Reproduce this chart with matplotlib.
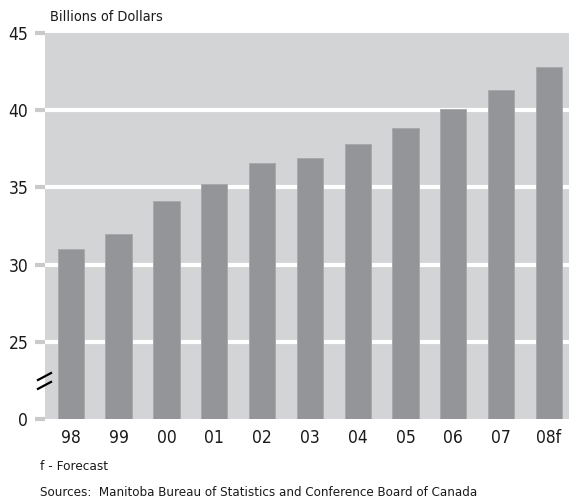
import numpy as np
import matplotlib
matplotlib.use("Agg")
import matplotlib.pyplot as plt
from matplotlib import font_manager as fm

# data
years = ['98', '99', '00', '01', '02', '03', '04', '05', '06', '07', '08f']
values = [31.0, 32.0, 34.1, 35.25, 36.55, 36.9, 37.8, 38.85, 40.05, 41.3, 42.8]
tick_values = [0, 25, 30, 35, 40, 45]

bg_grey = '#d3d4d6'
bar_grey = '#939598'

# the original uses a condensed face; pick one if there is any
font = None
scale = 1.0
for f in fm.fontManager.ttflist:
    if 'Narrow' in f.name or 'Condensed' in f.name:
        font = fm.FontProperties(fname=f.fname)
        break
    if f.name == 'DejaVu Sans' and f.stretch == 'condensed' and f.style == 'normal' \
            and f.weight in (400, 'normal'):
        font = fm.FontProperties(fname=f.fname)
        break
if font is None:
    font = fm.FontProperties(family='Roboto')
    scale = 0.88


def fp(size):
    p = font.copy()
    p.set_size(size * scale)
    return p


# broken axis: 0 sits one step below 25, then 5 units per step
def to_axis(v):
    v = np.asarray(v, dtype=float)
    return np.where(v >= 25, 1 + (v - 25) / 5.0, v / 25.0)


fig = plt.figure(figsize=(5.69, 5.04), dpi=100)
ax = fig.add_axes([0.0791, 0.1687, 0.9209, 0.7659])
ax.set_facecolor(bg_grey)

x = np.arange(len(years))
ax.bar(x, to_axis(values), width=0.55, color=bar_grey, edgecolor='#a5a7aa',
       linewidth=0.6, zorder=3)

ticks_pos = to_axis(tick_values)
for t in ticks_pos[1:-1]:
    ax.axhline(t, color='white', linewidth=3, zorder=2)

ax.set_xlim(-0.54, 10.42)
ax.set_ylim(0, 5)
ax.set_yticks(ticks_pos)
ax.set_yticklabels([str(t) for t in tick_values], fontproperties=fp(12.5))
ax.set_xticks(x)
ax.set_xticklabels(years, fontproperties=fp(12.5))

for s in ax.spines.values():
    s.set_visible(False)

ax.tick_params(axis='y', length=7, width=3, color='#c9cacc', pad=5,
               labelcolor='#1a1a1a')
ax.tick_params(axis='x', length=0, pad=7, labelcolor='#1a1a1a')

# axis break marks
for y0 in (0.078, 0.101):
    ax.plot([-0.0134, 0.0115], [y0, y0 + 0.018], transform=ax.transAxes,
            color='black', linewidth=1.6, clip_on=False, zorder=5)

fig.text(50 / 569, 1 - 17 / 504, 'Billions of Dollars', fontproperties=fp(10.4),
         va='center', ha='left', color='#1a1a1a')
fig.text(40 / 569, 1 - 466 / 504, 'f - Forecast', fontproperties=fp(9.7),
         va='center', ha='left', color='#1a1a1a')
fig.text(40 / 569, 1 - 493 / 504,
         'Sources:  Manitoba Bureau of Statistics and Conference Board of Canada',
         fontproperties=fp(9.5), va='center', ha='left', color='#1a1a1a')

fig.savefig('out.png', dpi=100)
